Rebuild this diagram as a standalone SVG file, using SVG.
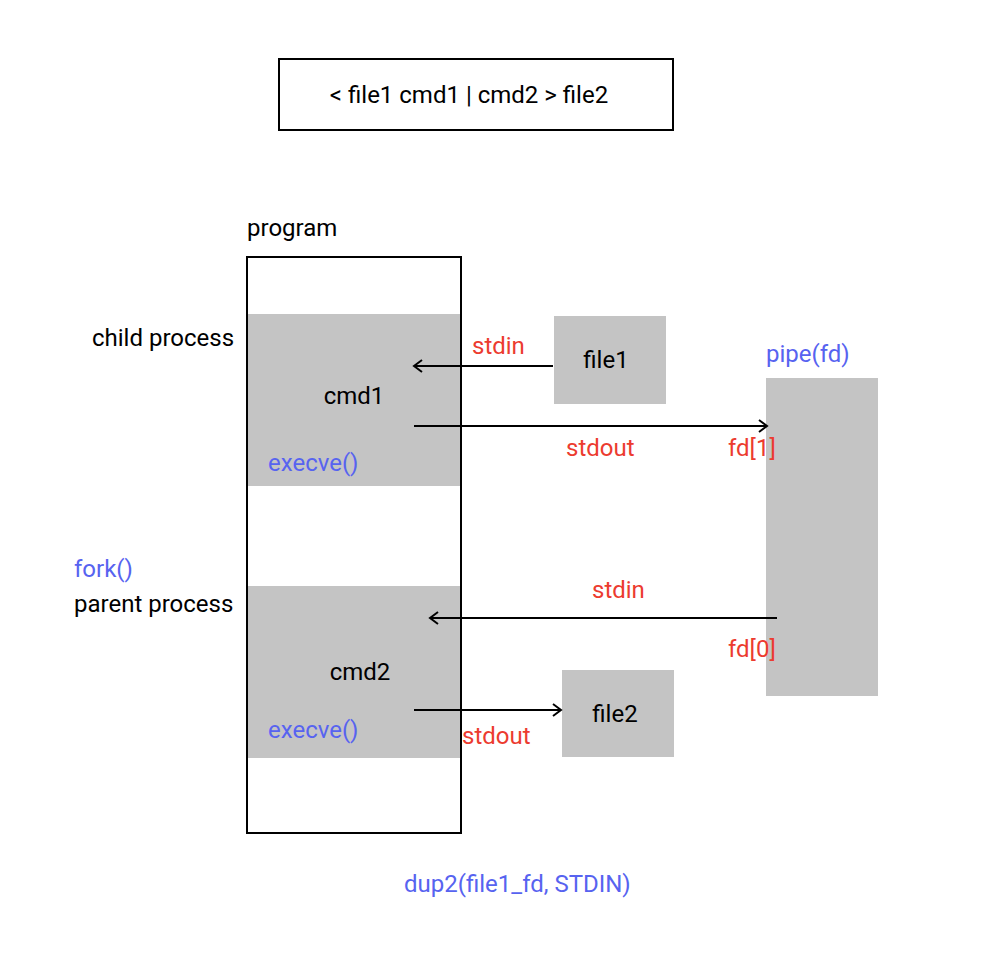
<svg xmlns="http://www.w3.org/2000/svg" width="994" height="960" viewBox="0 0 994 960">
<defs>
<style>
text{font-family:Roboto,"Liberation Sans",sans-serif;font-size:24px;fill:#000}
.red{fill:#ec3b2f}
.blue{fill:#5763f0}
.gray{fill:#c4c4c4}
.line{stroke:#000;stroke-width:2;fill:none}
</style>
<marker id="arr" markerWidth="12" markerHeight="14" refX="10" refY="7" orient="auto" markerUnits="userSpaceOnUse">
<path d="M2,1 L10,7 L2,13" fill="none" stroke="#000" stroke-width="2"/>
</marker>
</defs>
<rect width="994" height="960" fill="#fff"/>
<g id="command">
<rect x="279" y="59" width="394" height="71" fill="#fff" stroke="#000" stroke-width="2"/>
<text x="469" y="103" text-anchor="middle">&lt; file1 cmd1 | cmd2 &gt; file2</text>
</g>
<g id="program">
<text x="247" y="236">program</text>
<rect x="247" y="257" width="214" height="576" fill="#fff" stroke="#000" stroke-width="2"/>
</g>
<g id="cmd1">
<rect class="gray" x="248" y="314" width="212" height="172"/>
<text x="354" y="404" text-anchor="middle">cmd1</text>
<text class="blue" x="268" y="471">execve()</text>
<text x="92" y="346">child process</text>
</g>
<g id="cmd2">
<rect class="gray" x="248" y="586" width="212" height="172"/>
<text x="360" y="680" text-anchor="middle">cmd2</text>
<text class="blue" x="268" y="738">execve()</text>
<text class="blue" x="74" y="577">fork()</text>
<text x="74" y="612">parent process</text>
</g>
<g id="file1">
<rect class="gray" x="554" y="316" width="112" height="88"/>
<text x="606" y="368" text-anchor="middle">file1</text>
</g>
<g id="pipe">
<rect class="gray" x="766" y="378" width="112" height="318"/>
<text class="blue" x="766" y="362">pipe(fd)</text>
</g>
<g id="file2">
<rect class="gray" x="562" y="670" width="112" height="87"/>
<text x="615" y="722" text-anchor="middle">file2</text>
</g>
<g id="connectors">
<line class="line" x1="553" y1="366" x2="414" y2="366" marker-end="url(#arr)"/>
<line class="line" x1="414" y1="426" x2="767" y2="426" marker-end="url(#arr)"/>
<line class="line" x1="777" y1="618" x2="430" y2="618" marker-end="url(#arr)"/>
<line class="line" x1="414" y1="710" x2="561" y2="710" marker-end="url(#arr)"/>
<text class="red" x="472" y="354">stdin</text>
<text class="red" x="566" y="456">stdout</text>
<text class="red" x="728" y="456">fd[1]</text>
<text class="red" x="592" y="598">stdin</text>
<text class="red" x="728" y="657">fd[0]</text>
<text class="red" x="462" y="744">stdout</text>
</g>
<text class="blue" x="404" y="892">dup2(file1_fd, STDIN)</text>
</svg>
